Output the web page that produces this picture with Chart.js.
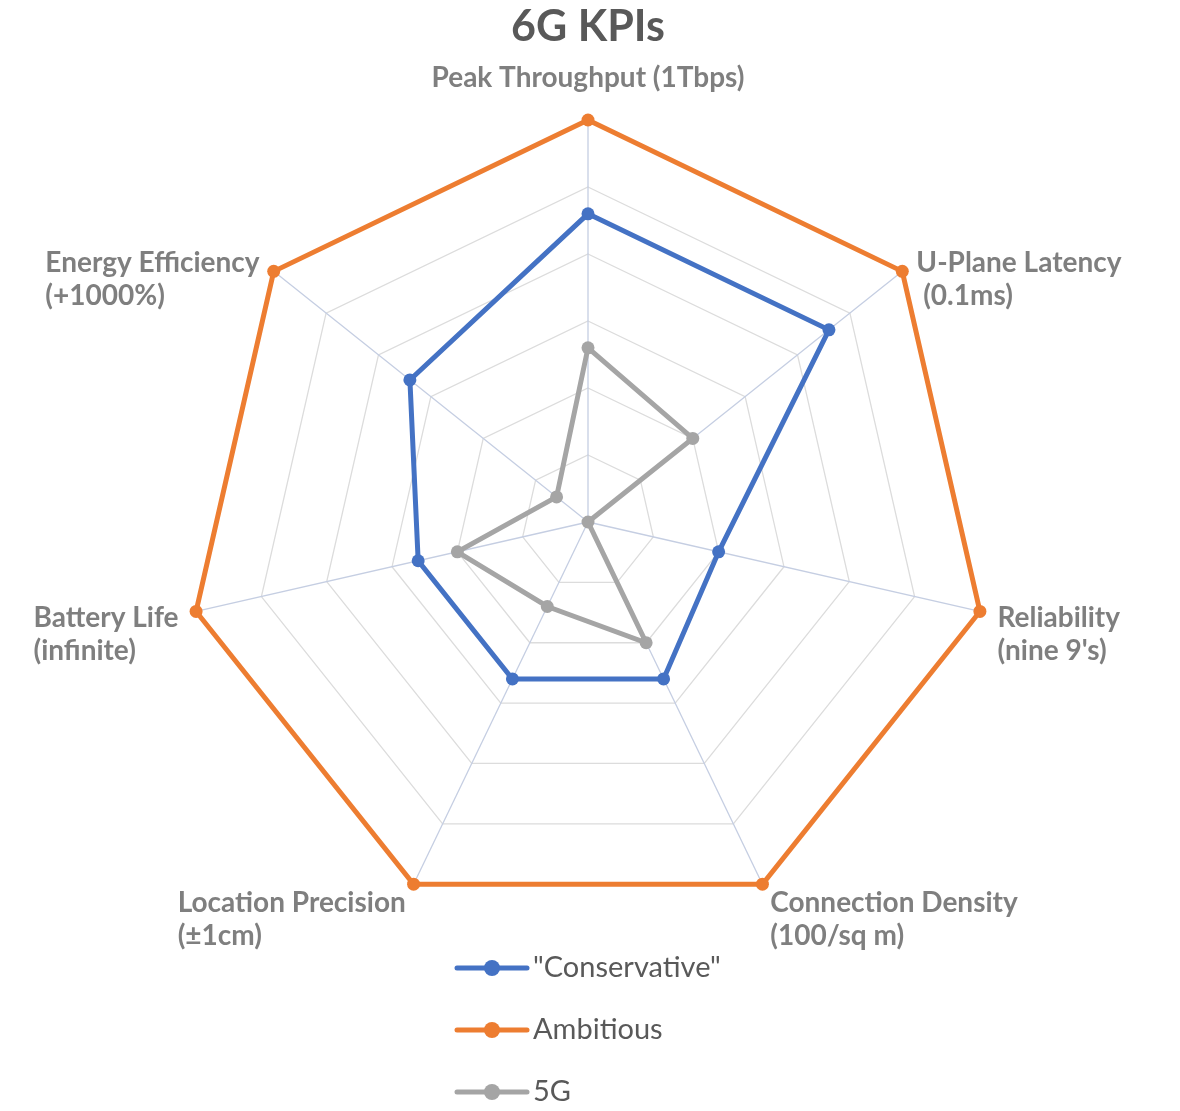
<!DOCTYPE html>
<html>
<head>
<meta charset="utf-8">
<title>6G KPIs</title>
<script src="https://cdn.jsdelivr.net/npm/chart.js@4.4.0/dist/chart.umd.min.js"></script>
<style>
    html, body { margin: 0; padding: 0; background: #ffffff; }
    #wrap { position: relative; width: 1180px; height: 1111px; }
</style>
</head>
<body>
<div id="wrap"><canvas id="myChart"></canvas></div>
<script>
// axis labels, each one split into its printed lines
const categories = [
    ['Peak Throughput (1Tbps)'],
    ['U-Plane Latency', ' (0.1ms)'],
    ['Reliability', "(nine 9's)"],
    ['Connection Density', '(100/sq m)'],
    ['Location Precision', '(±1cm)'],
    ['Battery Life', '(infinite)'],
    ['Energy Efficiency', '(+1000%)']
]

const seriesNames = ['"Conservative"', 'Ambitious', '5G']
const conservative = [23, 23, 10, 13, 13, 13, 17]
const ambitious = [30, 30, 30, 30, 30, 30, 30]
const fiveG = [13, 10, 0, 10, 7, 10, 3]

const scaleMax = 30
const scaleStep = 5

const colors = ['#4472C4', '#ED7D31', '#A5A5A5']

// labels drawn by hand so the lines stay left aligned like the original
const pointLabelsPlugin = {
    id: 'kpiPointLabels',
    afterDraw(chart) {
        const scale = chart.scales.r
        const ctx = chart.ctx
        const lineHeight = 33

        ctx.save()
        ctx.font = 'bold 28px Lato'
        ctx.fillStyle = '#7F7F7F'
        ctx.textBaseline = 'middle'

        chart.data.labels.forEach((lines, i) => {
            const angle = scale.getIndexAngle(i)
            const pos = scale.getPointPosition(i, scale.drawingArea + 18)
            const width = Math.max(...lines.map(l => ctx.measureText(l).width))
            const sin = Math.sin(angle)

            let y = pos.y + 3
            if (Math.cos(angle) > 0.95) {
                y = pos.y - 24 - (lines.length - 1) * lineHeight
            }

            lines.forEach((line, k) => {
                if (Math.abs(sin) <= 0.1) {
                    ctx.textAlign = 'center'
                    ctx.fillText(line, pos.x, y + k * lineHeight)
                } else {
                    ctx.textAlign = 'left'
                    const x = sin > 0 ? pos.x : pos.x - width
                    ctx.fillText(line, x, y + k * lineHeight)
                }
            })
        })
        ctx.restore()
    }
}

// vertical legend under the chart
const stackedLegendPlugin = {
    id: 'stackedLegend',
    afterDraw(chart) {
        const ctx = chart.ctx
        ctx.save()
        ctx.font = '29px Lato'
        ctx.textBaseline = 'middle'
        ctx.textAlign = 'left'

        chart.data.datasets.forEach((ds, k) => {
            const y = 968 + k * 62
            ctx.strokeStyle = ds.borderColor
            ctx.lineWidth = 5
            ctx.lineCap = 'round'
            ctx.beginPath()
            ctx.moveTo(457, y)
            ctx.lineTo(527, y)
            ctx.stroke()

            ctx.fillStyle = ds.pointBackgroundColor
            ctx.beginPath()
            ctx.arc(492, y, 8, 0, Math.PI * 2)
            ctx.fill()

            ctx.fillStyle = '#595959'
            ctx.fillText(ds.label, 533, y)
        })
        ctx.restore()
    }
}

const seriesData = [conservative, ambitious, fiveG]
const datasets = seriesData.map((values, k) => ({
    label: seriesNames[k],
    data: values,
    borderColor: colors[k],
    backgroundColor: colors[k],
    pointBackgroundColor: colors[k],
    pointBorderColor: colors[k],
    borderWidth: 5,
    pointRadius: 6.5,
    pointBorderWidth: 0,
    fill: false,
    tension: 0
}))

const ctx = document.getElementById('myChart').getContext('2d')

const config = {
    type: 'radar',
    data: {
        labels: categories,
        datasets: datasets
    },
    options: {
        responsive: true,
        maintainAspectRatio: false,
        animation: false,
        layout: {
            padding: { top: 0, left: 0, right: 4, bottom: 186 }
        },
        plugins: {
            legend: {
                display: false
            },
            tooltip: {
                enabled: false
            },
            title: {
                display: true,
                text: '6G KPIs',
                color: '#595959',
                font: { family: 'Lato', size: 43, weight: 'bold' },
                padding: { top: 1, bottom: 67 }
            }
        },
        scales: {
            r: {
                min: 0,
                max: scaleMax,
                ticks: {
                    stepSize: scaleStep,
                    display: false
                },
                grid: {
                    color: '#DCDCDC',
                    lineWidth: 1.3
                },
                angleLines: {
                    color: '#C5CEE2',
                    lineWidth: 1.3
                },
                pointLabels: {
                    display: false
                }
            }
        }
    },
    plugins: [pointLabelsPlugin, stackedLegendPlugin]
}

const myChart = new Chart(ctx, config)
</script>
</body>
</html>
